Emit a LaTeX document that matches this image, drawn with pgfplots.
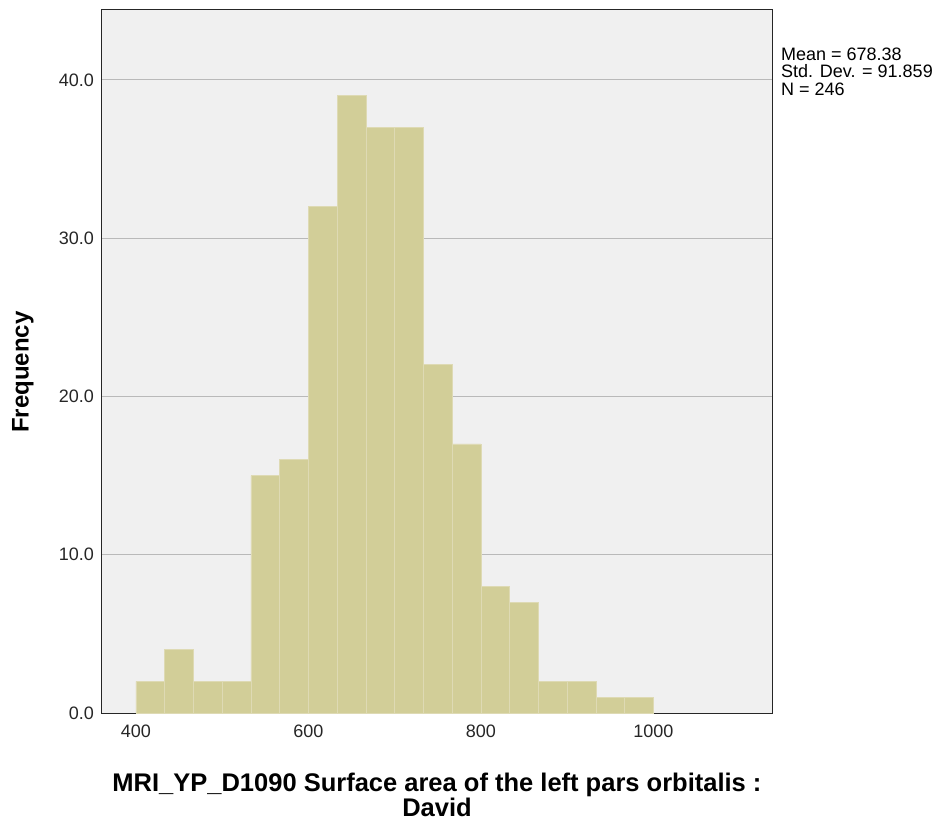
\documentclass[border=0pt]{standalone}
\usepackage{fontspec}
\setmainfont{Liberation Sans}
\usepackage{pgfplots}
\pgfplotsset{compat=1.18}
\definecolor{barfill}{HTML}{D2CE98}
\definecolor{baredge}{HTML}{DEDAB4}
\definecolor{bg}{HTML}{F0F0F0}
\definecolor{gridc}{HTML}{B9B9B9}
\begin{document}
\begin{tikzpicture}
\useasboundingbox (-102pt,-110pt) rectangle (836pt,713pt);
\begin{axis}[
  at={(0pt,0pt)}, anchor=south west,
  scale only axis, width=670pt, height=703pt,
  xmin=360.6, xmax=1137.4, ymin=0, ymax=44.42,
  clip=false,
  axis background/.style={fill=bg},
  axis line style={black!85, line width=1pt},
  xtick={400,600,800,1000}, xticklabels={400,600,800,1000},
  ytick={0,10,20,30,40},
  /pgf/number format/assume math mode=true,
  major tick length=0pt,
  ymajorgrids, grid style={gridc, line width=1pt},
  tick label style={font=\fontsize{18}{20}\selectfont, text=black!85},
  xticklabel style={anchor=north, inner sep=0pt, yshift=-12pt},
  yticklabel style={anchor=east, inner sep=0pt, xshift=-8pt,
    /pgf/number format/fixed, /pgf/number format/fixed zerofill,
    /pgf/number format/precision=1, /pgf/number format/assume math mode=true},
  xlabel={MRI\_YP\_D1090 Surface area of the left pars orbitalis :\\David},
  xlabel style={at={(axis description cs:0.5,-0.0853)}, anchor=north, inner sep=0pt, align=center, font=\bfseries\fontsize{25.5}{21.5}\selectfont},
  ylabel={Frequency},
  ylabel style={at={(axis description cs:-0.1343,0.485)}, anchor=north, inner sep=0pt, font=\bfseries\fontsize{24}{26}\selectfont},
]
\addplot[ybar interval, fill=barfill, draw=baredge, line width=0.8pt] coordinates {
(400,2) (433.33,4) (466.67,2) (500,2) (533.33,15) (566.67,16)
(600,32) (633.33,39) (666.67,37) (700,37) (733.33,22) (766.67,17)
(800,8) (833.33,7) (866.67,2) (900,2) (933.33,1) (966.67,1) (1000,0)
};
\node[anchor=north west, inner sep=0pt, align=left, font=\fontsize{18}{17.5}\selectfont] at (axis description cs:1.0134,0.947) {Mean = 678.38\\Std. Dev. = 91.859\\N = 246};
\end{axis}
\end{tikzpicture}
\end{document}
